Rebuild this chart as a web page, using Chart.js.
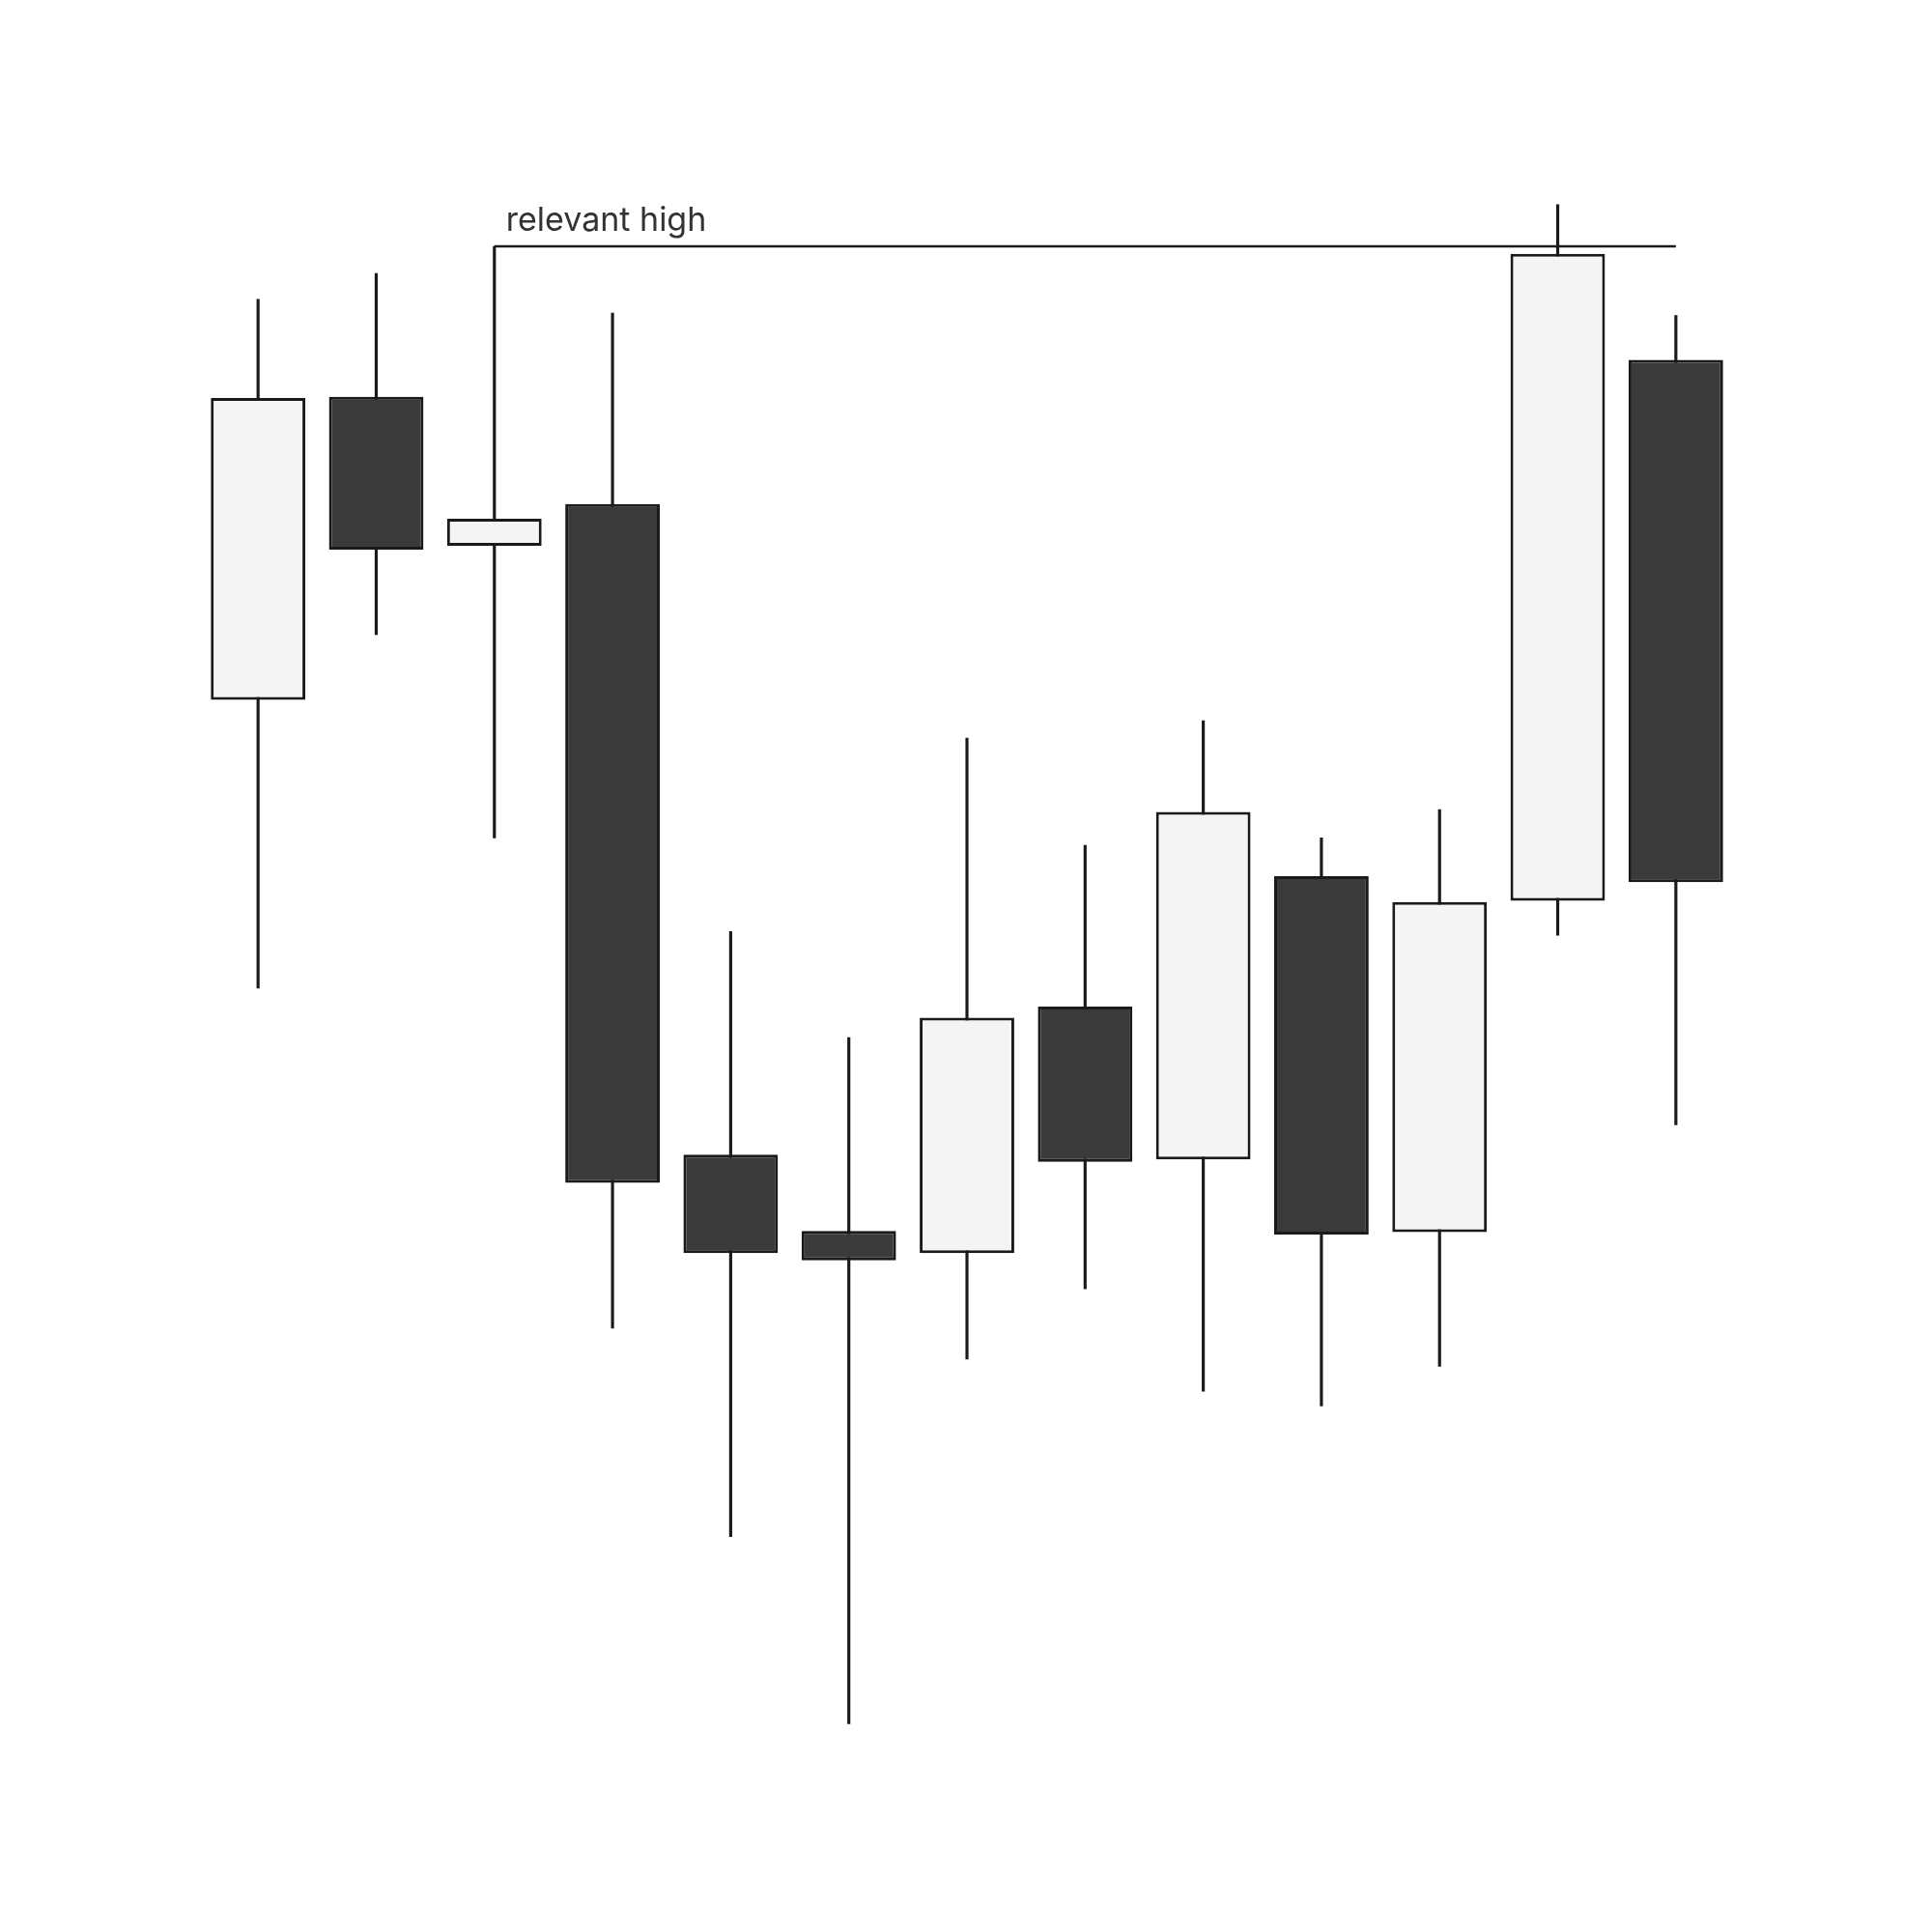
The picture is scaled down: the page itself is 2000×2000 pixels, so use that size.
<!DOCTYPE html>
<html>
<head>
<meta charset="utf-8">
<style>
  html, body { margin: 0; padding: 0; background: #ffffff; }
  #wrap { width: 2000px; height: 2000px; }
</style>
<script src="https://cdn.jsdelivr.net/npm/chart.js@4.4.0/dist/chart.umd.min.js"></script>
</head>
<body>
<div id="wrap"><canvas id="c" width="2000" height="2000"></canvas></div>
<script>
// ---- data ----
const categories = ['1','2','3','4','5','6','7','8','9','10','11','12','13'];
const opens  = [100.0, 124.6, 112.5, 115.9, 63.1, 56.9, 55.1, 75.1, 62.7, 85.7, 56.8, 83.7, 127.6];
const highs  = [132.5, 134.6, 136.8, 131.4, 81.2, 72.6, 96.9, 88.2, 98.3, 88.8, 91.1, 140.2, 131.2];
const lows   = [76.6, 105.3, 88.8, 49.0, 32.1, 16.9, 46.5, 52.2, 43.9, 42.7, 45.9, 80.9, 65.5];
const closes = [124.5, 112.2, 114.7, 60.8, 55.1, 54.5, 74.2, 62.5, 90.9, 56.6, 83.6, 136.2, 85.2];
const annotationText = 'relevant high';
const annotationFrom = 2;   // index of candle whose high is marked
const annotationTo = 12;    // index where the line ends

const upFill = '#f4f4f4';
const downFill = '#3a3a3a';
const edge = '#1a1a1a';

const bodies = categories.map((c, i) => [opens[i], closes[i]]);
const wicks = categories.map((c, i) => [lows[i], highs[i]]);
const bodyColors = categories.map((c, i) => closes[i] >= opens[i] ? upFill : downFill);

const annotationPlugin = {
  id: 'relevantHigh',
  afterDatasetsDraw(chart) {
    const ctx = chart.ctx;
    const xs = chart.scales.x, ys = chart.scales.y;
    const x1 = xs.getPixelForValue(annotationFrom);
    const x2 = xs.getPixelForValue(annotationTo);
    const y = ys.getPixelForValue(highs[annotationFrom]);
    ctx.save();
    ctx.strokeStyle = edge;
    ctx.lineWidth = 2.5;
    ctx.beginPath();
    ctx.moveTo(x1, y);
    ctx.lineTo(x2, y);
    ctx.stroke();
    ctx.fillStyle = '#333333';
    ctx.font = '34px Inter, "Noto Sans", sans-serif';
    ctx.textAlign = 'left';
    ctx.textBaseline = 'alphabetic';
    ctx.fillText(annotationText, x1 + 12, y - 16);
    ctx.restore();
  }
};

new Chart(document.getElementById('c'), {
  type: 'bar',
  data: {
    labels: categories,
    datasets: [
      {
        label: 'body',
        data: bodies,
        backgroundColor: bodyColors,
        borderColor: edge,
        borderWidth: 3,
        borderSkipped: false,
        barPercentage: 0.80,
        categoryPercentage: 1,
        grouped: false,
        order: 1
      },
      {
        label: 'wick',
        data: wicks,
        backgroundColor: edge,
        borderWidth: 0,
        barThickness: 2.5,
        grouped: false,
        order: 2
      }
    ]
  },
  options: {
    responsive: false,
    animation: false,
    devicePixelRatio: 1,
    layout: { padding: { left: 206, right: 204, top: 0, bottom: 0 } },
    plugins: { legend: { display: false }, tooltip: { enabled: false } },
    scales: {
      x: { display: false, offset: true, grid: { display: false } },
      y: { display: false, min: 0, max: 156.8, grid: { display: false } }
    }
  },
  plugins: [annotationPlugin]
});
</script>
</body>
</html>
